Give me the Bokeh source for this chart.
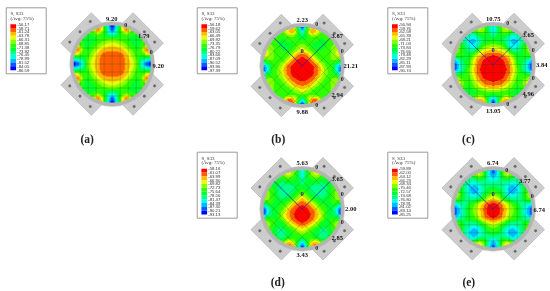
import numpy as np
from bokeh.plotting import figure
from bokeh.models import Range1d, LinearColorMapper
from bokeh.core.properties import value
from bokeh.embed import file_html
from bokeh.resources import INLINE

WIDTH, HEIGHT = 550, 291

# Abaqus S33 legends (MPa), top to bottom
legend_a = [-56.17, -58.71, -61.24, -63.78, -66.31, -68.85, -71.38, -73.92, -76.45, -78.99, -81.52, -84.05, -86.59]
legend_b = [-56.18, -59.62, -63.05, -66.49, -69.92, -73.35, -76.79, -80.22, -83.66, -87.09, -90.52, -93.96, -97.39]
legend_c = [-56.94, -59.76, -62.58, -65.39, -68.21, -71.03, -73.84, -76.66, -79.48, -82.29, -85.11, -87.93, -90.74]
legend_d = [-58.16, -61.07, -63.99, -66.90, -69.82, -72.73, -75.64, -78.56, -81.47, -84.39, -87.30, -90.21, -93.13]
legend_e = [-59.89, -62.00, -64.12, -66.23, -68.34, -70.46, -72.57, -74.68, -76.80, -78.91, -81.02, -83.14, -85.25]

palette = ["#ff0000", "#ff5d00", "#ffb900", "#e8ff00", "#8bff00", "#2eff00",
           "#00ff2e", "#00ff8b", "#00ffe8", "#00b9ff", "#005dff", "#0000ff"]

# Contour band read on a 9-column (left edge to axis, mirrored) x 17-row grid
field_a = [
    [6, 6, 6, 6, 5, 2.5, 3.5, 8, 12],
    [6, 6, 6, 6, 5, 1.2, 4, 8, 10.5],
    [6, 6, 6, 6, 6, 5.5, 6, 7, 8],
    [6, 6, 6, 6.5, 6.5, 6, 5.5, 5, 4.7],
    [5, 5, 6, 6.5, 6, 5, 4.2, 3.6, 3.3],
    [2.5, 1.2, 5.5, 6.2, 5, 3.8, 2.8, 2.3, 2.2],
    [3.5, 4, 6, 5.5, 4.2, 2.8, 1.7, 1.5, 1.5],
    [8, 8, 7, 5, 3.6, 2.3, 1.5, 1.4, 1.4],
    [12, 10.5, 8, 4.7, 3.3, 2.2, 1.5, 1.4, 1.4],
    [8, 8, 7, 5, 3.6, 2.3, 1.5, 1.4, 1.4],
    [3.5, 4, 6, 5.5, 4.2, 2.8, 1.7, 1.5, 1.5],
    [2.5, 1.2, 5.5, 6.2, 5, 3.8, 2.8, 2.3, 2.2],
    [5, 5, 6, 6.5, 6, 5, 4.2, 3.6, 3.3],
    [6, 6, 6, 6.5, 6.5, 6, 5.5, 5, 4.7],
    [6, 6, 6, 6, 6, 5.5, 6, 7, 8],
    [6, 6, 6, 6, 5, 1.2, 4, 8, 10.5],
    [6, 6, 6, 6, 5, 2.5, 3.5, 8, 12],
]
field_b = [
    [6, 6, 6, 6, 5, 4, 3, 6, 12],
    [5, 5, 5, 5, 5, 3, 2, 5, 9],
    [5, 5, 5, 5, 6, 5, 5, 6, 7],
    [5, 5, 6, 6, 6.5, 6, 6, 6, 5.5],
    [4, 4.5, 5, 6, 6.5, 6.5, 6, 5, 4.2],
    [3.5, 4, 5, 5.5, 6, 6, 5.2, 4, 2.8],
    [3.5, 4, 5, 5.5, 6, 5.2, 3.6, 1.8, 1.0],
    [6, 5, 5, 5.5, 5.3, 3.6, 1.8, 0.7, 0.5],
    [10, 7.5, 5.5, 5.2, 3.8, 1.8, 0.7, 0.4, 0.3],
    [11, 8, 5.5, 4.8, 3, 1.4, 0.6, 0.3, 0.2],
    [8, 6, 5, 5, 3.6, 1.8, 0.7, 0.4, 0.3],
    [4, 4.5, 5, 5.5, 4.6, 3, 1.6, 0.9, 0.7],
    [3.5, 4, 5, 6, 5.4, 4.4, 3, 2, 1.6],
    [4, 4.5, 5, 5.5, 6, 5.8, 4.8, 3.8, 3],
    [5, 5, 5, 5, 6, 6, 5.5, 5.2, 4.8],
    [5, 5, 5, 5, 5, 1.8, 2, 5, 8],
    [6, 6, 6, 6, 4, 1, 1, 6, 12],
]
field_c = [
    [7, 7, 7, 7, 5, 3.5, 4, 7, 9],
    [7, 7, 7, 6, 5.5, 4, 4.5, 7, 9],
    [6, 6, 7, 8, 8.5, 7, 6, 6.5, 7.5],
    [5, 6, 7.5, 9, 9.5, 8, 7, 6.5, 6],
    [4, 5, 7, 8.5, 9, 8, 5.2, 4.8, 4.6],
    [4, 5, 6.5, 7.5, 8, 5, 3.8, 3.2, 3],
    [5, 5.5, 6, 6.5, 4.8, 3.2, 2, 1.2, 1],
    [9, 7.5, 6.5, 6, 3.6, 2, 0.9, 0.5, 0.5],
    [11, 8.5, 7, 5.5, 3.2, 1.4, 0.6, 0.3, 0.3],
    [11, 8.5, 7, 4.8, 3, 1.1, 0.5, 0.3, 0.2],
    [7.5, 6.5, 6, 5, 3.2, 1.4, 0.6, 0.4, 0.3],
    [3.5, 4.5, 5.5, 5.4, 3.8, 2.2, 1, 0.8, 0.7],
    [2.5, 3.5, 5, 6, 4.6, 3.2, 2, 1.4, 1.2],
    [4, 5, 6, 6.5, 5.4, 4.6, 3.8, 3.4, 3.2],
    [6, 6, 6, 6.5, 6.5, 6, 6, 5.6, 5.5],
    [6, 6, 6, 6, 5, 3, 4, 7, 9],
    [7, 7, 7, 7, 4, 0.5, 1, 7, 12],
]
field_d = [
    [6, 6, 6, 6, 5, 3.5, 4, 6, 9],
    [6, 6, 6, 5.5, 5, 3.5, 4.5, 6.5, 9],
    [5, 5.5, 6, 6.5, 6.5, 6, 6, 6.5, 7.5],
    [5, 5.5, 6.5, 7, 7.5, 7, 7, 7, 7],
    [4, 5, 6, 7, 8, 8, 7.5, 6.5, 6],
    [3.5, 4.5, 6, 7, 8, 7.5, 6.5, 5.5, 4.2],
    [4, 4.5, 6, 6.5, 7, 6.5, 5.5, 4, 2.5],
    [7, 6, 6, 6.2, 6, 5, 3.2, 1.8, 1],
    [11, 8, 6.5, 6, 5.2, 3.2, 1.6, 0.8, 0.6],
    [11, 8, 6.5, 6, 3.9, 2.3, 1.1, 0.6, 0.3],
    [7, 6, 6, 6, 4.2, 2.8, 1.4, 0.5, 0.4],
    [4, 4.5, 5.8, 6.5, 6.2, 4, 2.8, 1.5, 0.9],
    [3.5, 4.5, 6, 7, 7, 6, 4.8, 3.6, 2.8],
    [4, 5, 6.5, 7.5, 7.5, 6.8, 6, 5, 4.4],
    [5.5, 5.5, 6, 7, 7.5, 6.5, 6, 6, 6],
    [6, 6, 6, 5.5, 4.5, 2.5, 3, 6.5, 9],
    [6, 6, 6, 6, 4, 0.5, 1.5, 7, 12],
]
field_e = [
    [6, 6, 6, 6, 5, 3.5, 5, 8, 11],
    [6, 6, 6, 6, 5.5, 3.5, 5.5, 8.5, 10],
    [6, 6, 7, 7.5, 7.5, 7, 7, 8, 8.5],
    [5.5, 6, 7, 8.5, 9, 8.5, 7.5, 7.5, 7.5],
    [4, 5.5, 7.5, 9, 10, 9, 7.5, 6.5, 6],
    [3, 5, 7, 8.5, 9, 8.5, 7, 5.5, 4.5],
    [5, 5.5, 7, 7.5, 7.5, 7, 5.5, 3.5, 2.6],
    [8.5, 8, 7.5, 6.5, 5.5, 3.8, 2.4, 1, 0.7],
    [11, 9, 7.5, 6, 4.6, 3.4, 1.8, 0.5, 0.3],
    [11, 9, 7.5, 6, 4.8, 3.6, 1.9, 0.6, 0.4],
    [8.5, 8, 7, 6, 5.5, 4, 2.6, 1.4, 0.9],
    [5, 5.5, 7, 7.5, 7.5, 7, 5.2, 4, 3.2],
    [3, 5, 7, 8.5, 9, 8.5, 7, 5.5, 5],
    [4, 5.5, 7.5, 9, 10, 9, 7.5, 6.5, 6],
    [6, 6, 7, 8.5, 9, 8, 7, 7.5, 8],
    [6, 6, 6, 6.5, 5.5, 3, 5, 8, 10],
    [6, 6, 6, 6, 4.5, 2, 4, 8, 11],
]

panel_names = ["(a)", "(b)", "(c)", "(d)", "(e)"]
legends = [legend_a, legend_b, legend_c, legend_d, legend_e]
fields = [field_a, field_b, field_c, field_d, field_e]
mesh_diagonal = [False, True, False, True, False]
has_guides = [False, True, True, True, True]

# Displacement labels at the plates, per panel
labels_a = ["9.20", "1.79", "9.20"]
labels_b = ["2.23", "3.87", "21.21", "2.94", "9.88"]
labels_c = ["10.75", "3.65", "3.84", "4.96", "13.05"]
labels_d = ["5.63", "3.65", "2.00", "2.85", "3.43"]
labels_e = ["6.74", "3.77", "6.74"]
panel_labels = [labels_a, labels_b, labels_c, labels_d, labels_e]

# Layout (page pixels)
centers = [(111.7, 63.5), (301.7, 65), (492.7, 64), (301.7, 208.3), (492.7, 208.3)]
legend_boxes = [(5.7, 7.3), (196.7, 7.3), (387.3, 7.3), (196.7, 151.7), (387.3, 151.7)]
name_pos = [(86.7, 138), (277.7, 138), (468, 138), (277.3, 281.7), (468.3, 281.7)]
label_offsets_five = [(0, -46), (35, -30), (48.5, 0), (35, 29), (0, 46.5)]
label_offsets_three = [(-0.5, -45.5), (31.5, -28), (46, 1.5)]
zero_offsets_five = [(14.5, -41.5), (40, -15), (40, 13.5), (14.5, 39.5)]
zero_offsets_three = [(13.5, -39), (39, -12.5)]
R = 38.5


def py(v):
    return HEIGHT - np.asarray(v, dtype=float)


p = figure(width=WIDTH, height=HEIGHT, x_range=Range1d(0, WIDTH), y_range=Range1d(0, HEIGHT),
           x_axis_type=None, y_axis_type=None, toolbar_location=None, output_backend="svg",
           min_border=0, outline_line_color=None, background_fill_color="white",
           styles={"position": "fixed", "left": "0px", "top": "0px"})
p.xgrid.visible = False
p.ygrid.visible = False

mapper = LinearColorMapper(palette=palette, low=0, high=12, nan_color="rgba(0,0,0,0)")


def upsample(half):
    half = np.asarray(half, dtype=float)
    full = np.hstack([half, half[:, -2::-1]])
    res = 155
    t = np.linspace(0, 16, res)
    g = np.arange(17)
    tmp = np.array([np.interp(t, g, row) for row in full])
    out = np.array([np.interp(t, g, col) for col in tmp.T]).T
    kernel = np.ones(5) / 5
    pad = 2
    out = np.pad(out, pad, mode="edge")
    out = np.apply_along_axis(lambda r: np.convolve(r, kernel, mode="valid"), 1, out)
    out = np.apply_along_axis(lambda r: np.convolve(r, kernel, mode="valid"), 0, out)
    xx, yy = np.meshgrid(np.linspace(-1, 1, res), np.linspace(-1, 1, res))
    out[xx ** 2 + yy ** 2 > 1] = np.nan
    return np.clip(out, 0, 11.99)


def plate_geometry(cx, cy):
    polys_x, polys_y, hatch_x, hatch_y, bx, by = [], [], [], [], [], []
    u0, u1, hw = 34.0, 51.0, 21.5
    for sx, sy in [(-1, -1), (1, -1), (-1, 1), (1, 1)]:
        ux, uy = sx / np.sqrt(2), sy / np.sqrt(2)
        vx, vy = -uy, ux
        pts = [(u0, -hw), (u1, -hw), (u1, hw), (u0, hw)]
        polys_x.append([cx + a * ux + b * vx for a, b in pts])
        polys_y.append(list(py([cy + a * uy + b * vy for a, b in pts])))
        for a in np.arange(u0, u1 + 0.1, 2.1):
            hatch_x.append([cx + a * ux - hw * vx, cx + a * ux + hw * vx])
            hatch_y.append(list(py([cy + a * uy - hw * vy, cy + a * uy + hw * vy])))
        for b in np.arange(-hw, hw + 0.1, 2.1):
            hatch_x.append([cx + u0 * ux + b * vx, cx + u1 * ux + b * vx])
            hatch_y.append(list(py([cy + u0 * uy + b * vy, cy + u1 * uy + b * vy])))
        for b in (-14.5, 0, 14.5):
            bx.append(cx + 45.5 * ux + b * vx)
            by.append(cy + 45.5 * uy + b * vy)
    return polys_x, polys_y, hatch_x, hatch_y, bx, list(py(by))


def mesh_lines(cx, cy, diagonal):
    xs, ys = [], []
    step = 10.0 if diagonal else 8.0
    ang = np.pi / 4 if diagonal else 0.0
    c, s = np.cos(ang), np.sin(ang)
    for k in np.arange(-4, 5):
        d = k * step
        if abs(d) >= R:
            continue
        h = np.sqrt(R ** 2 - d ** 2)
        for (x0, y0, x1, y1) in [(d, -h, d, h), (-h, d, h, d)]:
            xs.append([cx + x0 * c - y0 * s, cx + x1 * c - y1 * s])
            ys.append(list(py([cy + x0 * s + y0 * c, cy + x1 * s + y1 * c])))
    return xs, ys


serif = value("Liberation Serif")
for i, (cx, cy) in enumerate(centers):
    px, py_, hx, hy, bx, by = plate_geometry(cx, cy)
    p.patches(px, py_, fill_color="#d2d2d2", line_color="#a8a8a8", line_width=0.5)
    p.multi_line(hx, hy, line_color="#9a9a9a", line_width=0.3, line_alpha=0.5)
    p.scatter(bx, by, size=2.6, marker="circle", fill_color="#666666", line_color="#777777", line_width=0.4)
    p.circle([cx], list(py([cy])), radius=42.5, fill_color="#b4b4b4", line_color="#cccccc", line_width=0.5)
    p.image(image=[upsample(fields[i])[::-1]], x=cx - R, y=float(py(cy + R)), dw=2 * R, dh=2 * R,
            color_mapper=mapper)
    mx, my = mesh_lines(cx, cy, mesh_diagonal[i])
    p.multi_line(mx, my, line_color="#103c10", line_width=0.45, line_alpha=0.45)
    if has_guides[i]:
        p.multi_line([[cx - 28.3, cx, cx + 28.3]], [list(py([cy - 27.5, cy + 0.5, cy - 27.5]))],
                     line_color="#1a1ad0", line_width=0.6)
        p.text([cx], list(py([cy - 14.5])), text=["0"], text_font=serif, text_font_size="6.5px",
               text_font_style="bold", text_color="#1a1a90", text_align="center", text_baseline="middle")

    labs = panel_labels[i]
    off = label_offsets_five if len(labs) == 5 else label_offsets_three
    zoff = zero_offsets_five if len(labs) == 5 else zero_offsets_three
    p.text([cx + o[0] for o in off], list(py([cy + o[1] for o in off])), text=labs, text_font=serif,
           text_font_size="6.5px", text_font_style="bold", text_color="#111111",
           text_align="center", text_baseline="middle")
    p.text([cx + o[0] for o in zoff], list(py([cy + o[1] for o in zoff])), text=["0"] * len(zoff),
           text_font=serif, text_font_size="6px", text_font_style="bold", text_color="#222222",
           text_align="center", text_baseline="middle")

    # legend
    lx, ly = legend_boxes[i]
    p.quad(left=[lx], right=[lx + 40], top=list(py([ly])), bottom=list(py([ly + 66])),
           fill_color="white", line_color="#9a9a9a", line_width=1)
    vals = legends[i]
    seg = 3.82
    y0 = ly + 16.5
    tops = [y0 + k * seg for k in range(12)]
    bots = [y0 + (k + 1) * seg for k in range(12)]
    p.quad(left=[lx + 4.2] * 12, right=[lx + 9.9] * 12, top=list(py(tops)), bottom=list(py(bots)),
           fill_color=palette, line_color=None)
    p.text([lx + 11] * 13, list(py([y0 + k * seg for k in range(13)])),
           text=[f"{v:.2f}" for v in vals], text_font=value("Liberation Sans"), text_font_size="4.3px",
           text_color="#333333", text_align="left", text_baseline="middle")
    p.text([lx + 4.2, lx + 4.2], list(py([ly + 6, ly + 10.4])), text=["S, S33", "(Avg: 75%)"],
           text_font=serif, text_font_size="5px", text_color="#333333", text_baseline="middle")

    nx, ny = name_pos[i]
    p.text([nx], list(py([ny])), text=[panel_names[i]], text_font=serif, text_font_size="11.5px",
           text_font_style="bold", text_color="#222222", text_align="center", text_baseline="middle")

open("out.html", "w").write(file_html(p, INLINE))
